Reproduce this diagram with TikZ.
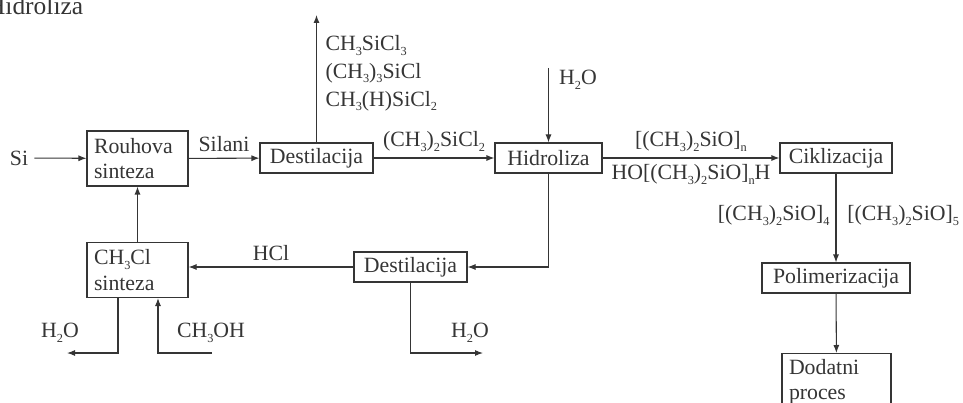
\documentclass[tikz,border=0pt]{standalone}
\usepackage{fontspec}
\setmainfont{Liberation Serif}
\usetikzlibrary{arrows.meta}

\definecolor{ink}{HTML}{353535}
\newcommand{\subs}[1]{\raisebox{-.45ex}{\fontsize{7}{8}\selectfont #1}}

\begin{document}
\begin{tikzpicture}[line width=.6pt, color=ink, font=\fontsize{12.4}{14.4}\selectfont,
    box/.style={draw, inner sep=0pt, minimum height=.6cm},
    box2/.style={draw, inner xsep=.14cm, inner ysep=0pt, minimum height=1.1cm, align=left},
    flow/.style={-{Latex[length=1.6mm,width=1.2mm]}}]

\useasboundingbox (0,0) rectangle (19.26,-8.06);
\clip (0,0) rectangle (19.26,-8.06);

% naslov (odrezan na rubu)
\node[anchor=base west, inner sep=0pt, font=\fontsize{14.5}{16}\selectfont] (title) at (-.27,-.29) {Hidroliza};

% procesni blokovi
\node[box2, text width=1.74cm] (rou) at (2.75,-3.17) {Rouhova\\sinteza};
\node[box, minimum width=2.26cm] (des1) at (6.33,-3.16) {Destilacija};
\node[box, minimum width=2.14cm] (hid) at (10.97,-3.16) {Hidroliza};
\node[box, minimum width=2.24cm] (cik) at (16.72,-3.16) {Ciklizacija};
\node[box, minimum width=2.96cm] (pol) at (16.72,-5.56) {Polimerizacija};
\node[draw, inner xsep=.14cm, inner ysep=.12cm, text width=1.9cm, align=left, anchor=north] (dod) at (16.73,-7.06) {Dodatni\\proces};
\node[box, minimum width=2.26cm] (des2) at (8.21,-5.34) {Destilacija};
\node[box2, text width=1.74cm] (chs) at (2.75,-5.4) {CH\subs{3}Cl\\sinteza};

% ulazi i izlazi
\node (si) at (.38,-3.16) {Si};
\coordinate (top) at (6.33,-.3);
\coordinate (h2oin) at (10.97,-1.36);
\coordinate (h2oL) at (1.34,-7.06);
\coordinate (meoh) at (4.24,-7.06);
\coordinate (h2oR) at (9.66,-7.06);

\node[anchor=north west, inner sep=0pt, align=left, font=\fontsize{12.4}{15.8}\selectfont] (side) at (6.5,-.7)
    {CH\subs{3}SiCl\subs{3}\\(CH\subs{3})\subs{3}SiCl\\CH\subs{3}(H)SiCl\subs{2}};
\node (lh2oin) at (11.56,-1.6) {H\subs{2}O};
\node (lh2oL) at (1.2,-6.66) {H\subs{2}O};
\node (lmeoh) at (4.22,-6.66) {CH\subs{3}OH};
\node (lh2oR) at (9.4,-6.66) {H\subs{2}O};

% tokovi
\draw[flow] (si) -- (rou);
\draw[flow] (rou) -- node[above] {Silani} (des1);
\draw[flow] (des1.north) -- (top);
\draw[flow] (des1) -- node[above] {(CH\subs{3})\subs{2}SiCl\subs{2}} (hid);
\draw[flow] (h2oin) -- (hid);
\draw[flow] (hid) -- node[above] {[(CH\subs{3})\subs{2}SiO]\subs{n}}
                     node[below] {HO[(CH\subs{3})\subs{2}SiO]\subs{n}H} (cik);
\draw[flow] (cik) -- node[pos=.47, left] {[(CH\subs{3})\subs{2}SiO]\subs{4}}
                     node[pos=.47, right, xshift=.1cm] {[(CH\subs{3})\subs{2}SiO]\subs{5}} (pol);
\draw[flow] (pol) -- (dod);
\draw[flow] (hid.south) |- (des2.east);
\draw[flow] (des2.west) -- node[above] {HCl} (des2.west -| chs.east);
\draw[flow] (chs) -- (rou);
\draw[flow] ([xshift=-.39cm]chs.south) |- (h2oL);
\draw[flow] (meoh) -| ([xshift=.41cm]chs.south);
\draw[flow] (des2.south) |- (h2oR);

%\draw[red] (0,0) grid (19,-8);
\end{tikzpicture}
\end{document}
